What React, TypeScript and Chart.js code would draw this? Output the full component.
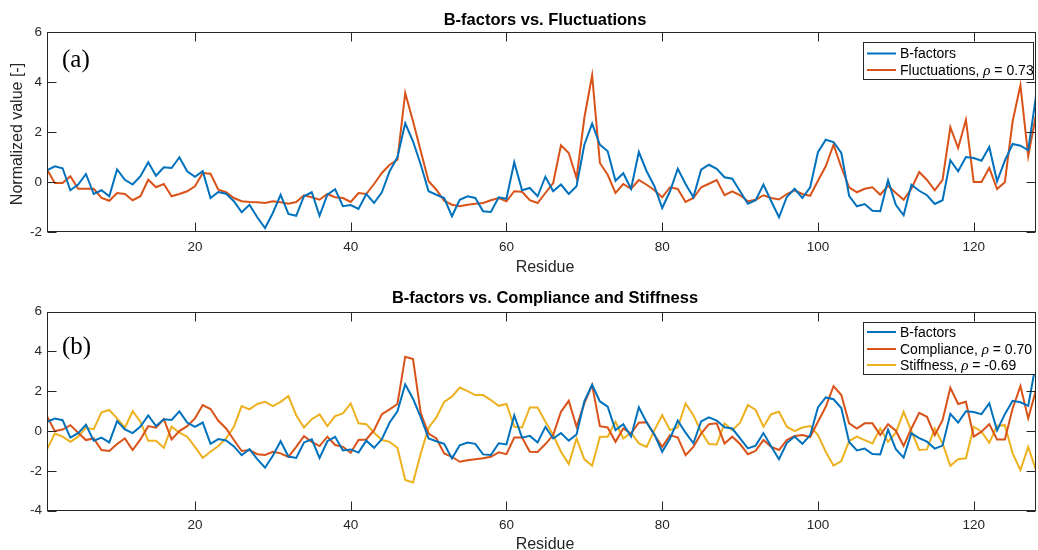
import React, { useEffect, useRef } from "react";
import { Chart, registerables } from "chart.js";

Chart.register(...registerables);

// ---------------- data ----------------
const residues = Array.from({ length: 128 }, (_, i) => i + 1);

const bFactors = [
  0.47, 0.63, 0.55, -0.33, -0.1, 0.32, -0.48, -0.33, -0.57, 0.5,
  0.09, -0.1, 0.23, 0.79, 0.25, 0.59, 0.56, 0.99, 0.43, 0.21,
  0.43, -0.64, -0.4, -0.47, -0.77, -1.21, -0.91, -1.41, -1.84, -1.24,
  -0.51, -1.28, -1.35, -0.57, -0.41, -1.35, -0.51, -0.29, -0.97, -0.92,
  -1.08, -0.48, -0.84, -0.41, 0.43, 0.99, 2.35, 1.63, 0.69, -0.37,
  -0.51, -0.64, -1.37, -0.71, -0.57, -0.64, -1.17, -1.2, -0.61, -0.67,
  0.79, -0.33, -0.24, -0.57, 0.21, -0.37, -0.1, -0.48, -0.17, 1.49,
  2.33, 1.49, 1.23, 0.05, 0.35, -0.27, 1.2, 0.43, -0.17, -1.04,
  -0.37, 0.53, -0.08, -0.61, 0.49, 0.69, 0.53, 0.19, 0.13, -0.37,
  -0.87, -0.73, -0.1, -0.77, -1.41, -0.6, -0.27, -0.64, -0.21, 1.19,
  1.69, 1.6, 1.16, -0.55, -0.97, -0.88, -1.15, -1.17, 0.07, -0.91,
  -1.33, -0.11, -0.35, -0.53, -0.88, -0.73, 0.87, 0.43, 1.0, 0.96,
  0.85, 1.4, 0.03, 0.85, 1.52, 1.45, 1.27, 3.43,
];

const fluctuations = [
  0.5, -0.04, -0.04, 0.23, -0.27, -0.27, -0.27, -0.64, -0.75, -0.44,
  -0.48, -0.73, -0.57, 0.09, -0.21, -0.08, -0.57, -0.48, -0.37, -0.17,
  0.36, 0.33, -0.31, -0.41, -0.64, -0.77, -0.8, -0.81, -0.84, -0.77,
  -0.81, -0.87, -0.8, -0.53, -0.61, -0.71, -0.48, -0.61, -0.64, -0.8,
  -0.44, -0.48, -0.08, 0.36, 0.69, 0.89, 3.56, 2.43, 1.23, 0.03,
  -0.31, -0.75, -0.91, -0.97, -0.91, -0.87, -0.84, -0.73, -0.64, -0.77,
  -0.37, -0.39, -0.73, -0.84, -0.44, -0.04, 1.47, 1.16, 0.16, 2.56,
  4.27, 0.76, 0.29, -0.44, -0.08, -0.27, 0.08, -0.11, -0.33, -0.61,
  -0.21, -0.28, -0.8, -0.64, -0.21, -0.07, 0.08, -0.53, -0.37, -0.53,
  -0.77, -0.71, -0.53, -0.64, -0.7, -0.48, -0.33, -0.48, -0.55, 0.05,
  0.63, 1.49, 0.59, -0.21, -0.41, -0.27, -0.21, -0.51, -0.15, -0.44,
  -0.71, -0.27, 0.4, 0.08, -0.33, 0.09, 2.19, 1.36, 2.49, 0.0,
  0.0, 0.56, -0.28, -0.01, 2.43, 3.87, 1.03, 2.69,
];

const compliance = [
  0.75, 0.0, 0.08, 0.3, -0.08, -0.45, -0.37, -0.95, -1.0, -0.65,
  -0.37, -0.95, -0.42, 0.25, 0.17, 0.6, -0.42, 0.0, 0.25, 0.64,
  1.31, 1.11, 0.52, 0.13, -0.45, -1.0, -0.95, -1.16, -1.2, -1.04,
  -1.12, -1.3, -0.79, -0.25, -0.54, -0.75, -0.28, -0.7, -0.79, -1.09,
  -0.45, -0.42, 0.05, 0.85, 1.09, 1.36, 3.74, 3.62, 0.89, -0.12,
  -0.37, -1.12, -1.29, -1.54, -1.46, -1.41, -1.36, -1.29, -1.07, -1.16,
  -0.32, -0.32, -1.04, -1.05, -0.65, -0.2, 0.97, 1.52, 0.22, 1.39,
  2.31, 0.25, 0.18, -0.54, 0.13, -0.12, 0.42, 0.45, -0.2, -0.79,
  -0.2, -0.32, -1.21, -0.79, -0.12, 0.35, 0.39, -0.62, -0.28, -0.65,
  -1.16, -0.99, -0.45, -0.79, -0.95, -0.45, -0.25, -0.2, -0.3, 0.47,
  1.22, 2.26, 1.81, 0.39, 0.13, 0.39, 0.39, -0.2, 0.35, 0.02,
  -0.74, 0.13, 0.92, 0.72, -0.2, 0.55, 2.18, 1.36, 1.47, -0.28,
  -0.03, 0.35, -0.42, -0.42, 1.14, 2.26, 0.64, 2.06,
];

const stiffness = [
  -0.92, -0.12, -0.28, -0.54, -0.28, 0.17, 0.1, 0.94, 1.06, 0.64,
  0.17, 1.0, 0.47, -0.49, -0.49, -0.84, 0.22, -0.08, -0.28, -0.79,
  -1.34, -1.04, -0.75, -0.37, 0.22, 1.26, 1.09, 1.36, 1.47, 1.26,
  1.47, 1.76, 0.8, 0.18, 0.6, 0.84, 0.25, 0.75, 0.89, 1.39,
  0.39, 0.35, -0.08, -0.45, -0.54, -0.84, -2.46, -2.58, -1.12, 0.17,
  0.69, 1.47, 1.73, 2.19, 2.01, 1.81, 1.81, 1.56, 1.27, 1.36,
  0.22, 0.18, 1.19, 1.19, 0.47, -0.2, -1.04, -1.66, -0.37, -1.42,
  -1.74, -0.28, -0.28, 0.47, -0.37, -0.08, -0.62, -0.79, 0.05, 0.8,
  0.05, 0.18, 1.39, 0.8, -0.03, -0.65, -0.67, 0.39, 0.05, 0.42,
  1.31, 1.06, 0.22, 0.85, 0.97, 0.22, 0.0, 0.18, 0.25, -0.2,
  -1.04, -1.74, -1.51, -0.5, -0.28, -0.45, -0.62, 0.13, -0.54, -0.08,
  0.97, 0.0, -0.95, -0.92, 0.13, -0.62, -1.74, -1.41, -1.37, 0.22,
  -0.03, -0.59, 0.27, 0.3, -1.12, -1.96, -0.79, -1.96,
];

const xTicks = [20, 40, 60, 80, 100, 120];
const titleTop = "B-factors vs. Fluctuations";
const titleBottom = "B-factors vs. Compliance and Stiffness";
const xLabel = "Residue";
const yLabel = "Normalized value [-]";
const panelA = "(a)";
const panelB = "(b)";
const rhoFluct = "0.73";
const rhoComp = "0.70";
const rhoStiff = "-0.69";

const BLUE = "#0072BD";
const ORANGE = "#D95319";
const YELLOW = "#EDB120";
const AX = "#262626";
const SANS = "'Liberation Sans', Arial, Helvetica, sans-serif";
const SERIF = "'Liberation Serif', 'Times New Roman', serif";

type Part = { text: string; italic?: boolean };
type LegendItem = { color: string; parts: Part[] };

const legendTopItems: LegendItem[] = [
  { color: BLUE, parts: [{ text: "B-factors" }] },
  { color: ORANGE, parts: [{ text: "Fluctuations, " }, { text: "ρ", italic: true }, { text: " = " + rhoFluct }] },
];
const legendBottomItems: LegendItem[] = [
  { color: BLUE, parts: [{ text: "B-factors" }] },
  { color: ORANGE, parts: [{ text: "Compliance, " }, { text: "ρ", italic: true }, { text: " = " + rhoComp }] },
  { color: YELLOW, parts: [{ text: "Stiffness, " }, { text: "ρ", italic: true }, { text: " = " + rhoStiff }] },
];

const series = (vals: number[]) => vals.map((v, i) => ({ x: residues[i], y: v }));

const framePlugin = {
  id: "frame",
  afterDraw(chart: any, _args: any, o: any) {
    const { ctx, chartArea: a, scales } = chart;
    ctx.save();
    // box
    ctx.strokeStyle = AX;
    ctx.lineWidth = 1;
    const L = Math.round(a.left) + 0.5;
    const R = Math.round(a.right) - 0.5;
    const T = Math.round(a.top) + 0.5;
    const B = Math.round(a.bottom) - 0.5;
    ctx.strokeRect(L, T, R - L, B - T);
    const tl = 9;
    ctx.beginPath();
    for (const v of xTicks) {
      const px = Math.round(scales.x.getPixelForValue(v)) + 0.5;
      ctx.moveTo(px, B);
      ctx.lineTo(px, B - tl);
      ctx.moveTo(px, T);
      ctx.lineTo(px, T + tl);
    }
    for (const t of scales.y.ticks) {
      const py = Math.round(scales.y.getPixelForValue(t.value)) + 0.5;
      ctx.moveTo(L, py);
      ctx.lineTo(L + tl, py);
      ctx.moveTo(R, py);
      ctx.lineTo(R - tl, py);
    }
    ctx.stroke();

    // title
    ctx.fillStyle = "#000";
    ctx.font = `bold 16.5px ${SANS}`;
    ctx.textAlign = "center";
    ctx.textBaseline = "alphabetic";
    ctx.fillText(o.title, 545, o.titleY);

    // x label
    ctx.fillStyle = AX;
    ctx.font = `16px ${SANS}`;
    ctx.fillText(xLabel, 545, o.xLabelY);

    // y label
    ctx.save();
    ctx.translate(21.5, o.yLabelY);
    ctx.rotate(-Math.PI / 2);
    ctx.fillText(yLabel, 0, 0);
    ctx.restore();

    // panel label
    ctx.fillStyle = "#000";
    ctx.font = `25px ${SERIF}`;
    ctx.textAlign = "left";
    ctx.fillText(o.panel, 62, o.panelY);

    // legend
    const lg = o.legend;
    ctx.fillStyle = "#fff";
    ctx.fillRect(lg.x, lg.y, lg.w, lg.h);
    ctx.strokeStyle = AX;
    ctx.lineWidth = 1;
    ctx.strokeRect(lg.x + 0.5, lg.y + 0.5, lg.w, lg.h);
    lg.items.forEach((it: LegendItem, i: number) => {
      const cy = lg.rowY[i];
      ctx.strokeStyle = it.color;
      ctx.lineWidth = 2;
      ctx.beginPath();
      ctx.moveTo(lg.x + 4, cy);
      ctx.lineTo(lg.x + 33, cy);
      ctx.stroke();
      let x = lg.x + 37;
      ctx.fillStyle = "#000";
      ctx.textBaseline = "middle";
      for (const p of it.parts) {
        ctx.font = p.italic ? `italic 15px ${SERIF}` : `14px ${SANS}`;
        ctx.fillText(p.text, x, cy + 1);
        x += ctx.measureText(p.text).width;
      }
    });
    ctx.restore();
  },
};

function makeConfig(datasets: any[], opts: any) {
  return {
    type: "line" as const,
    data: {
      datasets: datasets.map((d) => ({
        data: series(d.values),
        borderColor: d.color,
        backgroundColor: d.color,
        borderWidth: 2,
        pointRadius: 0,
        tension: 0,
        fill: false,
      })),
    },
    options: {
      responsive: false,
      animation: false as const,
      events: [],
      layout: { padding: { top: opts.padTop, right: 2, left: 0, bottom: 0 } },
      plugins: {
        legend: { display: false },
        title: { display: false },
        tooltip: { enabled: false },
        frame: opts.frame,
      },
      scales: {
        x: {
          type: "linear" as const,
          min: 1,
          max: 128,
          grid: { display: false, drawTicks: false },
          border: { display: false },
          ticks: {
            color: AX,
            font: { family: SANS, size: 13.5 },
            padding: opts.xTickPad,
            maxRotation: 0,
            autoSkip: false,
          },
          afterBuildTicks: (s: any) => {
            s.ticks = xTicks.map((v) => ({ value: v }));
          },
          afterFit: (s: any) => {
            s.height = opts.xAxisH;
          },
        },
        y: {
          type: "linear" as const,
          min: opts.yMin,
          max: 6,
          grid: { display: false, drawTicks: false },
          border: { display: false },
          ticks: {
            stepSize: 2,
            color: AX,
            font: { family: SANS, size: 13.5 },
            padding: 5,
          },
          afterFit: (s: any) => {
            s.width = 47;
          },
        },
      },
    },
    plugins: [framePlugin],
  };
}

export default function App() {
  const topRef = useRef<HTMLCanvasElement>(null);
  const botRef = useRef<HTMLCanvasElement>(null);

  useEffect(() => {
    const c1 = new Chart(
      topRef.current as HTMLCanvasElement,
      makeConfig(
        [
          { values: bFactors, color: BLUE },
          { values: fluctuations, color: ORANGE },
        ],
        {
          padTop: 32,
          xAxisH: 48,
          xTickPad: 7.2,
          yMin: -2,
          frame: {
            title: titleTop,
            titleY: 25.3,
            xLabelY: 272.3,
            yLabelY: 134,
            panel: panelA,
            panelY: 67.2,
            legend: { x: 863, y: 42, w: 170, h: 37, rowY: [53.5, 70], items: legendTopItems },
          },
        }
      ) as any
    );
    const c2 = new Chart(
      botRef.current as HTMLCanvasElement,
      makeConfig(
        [
          { values: bFactors, color: BLUE },
          { values: compliance, color: ORANGE },
          { values: stiffness, color: YELLOW },
        ],
        {
          padTop: 31.7,
          xAxisH: 39.3,
          xTickPad: 6.2,
          yMin: -4,
          frame: {
            title: titleBottom,
            titleY: 23,
            xLabelY: 268.5,
            yLabelY: 410,
            panel: panelB,
            panelY: 73.5,
            legend: { x: 863, y: 42, w: 172, h: 52, rowY: [52, 69, 85], items: legendBottomItems },
          },
        }
      ) as any
    );
    return () => {
      c1.destroy();
      c2.destroy();
    };
  }, []);

  return (
    <div style={{ position: "absolute", left: 0, top: 0, width: 1038, height: 550, background: "#fff" }}>
      <canvas ref={topRef} width={1038} height={280} style={{ display: "block", width: 1038, height: 280 }} />
      <canvas ref={botRef} width={1038} height={270} style={{ display: "block", width: 1038, height: 270 }} />
    </div>
  );
}
